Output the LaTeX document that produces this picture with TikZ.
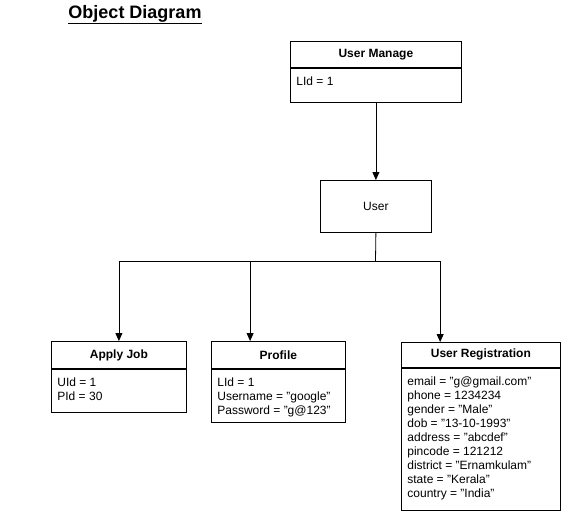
\documentclass[tikz,border=0pt]{standalone}
\usepackage{fontspec}
\setmainfont{Liberation Sans}
\usetikzlibrary{arrows.meta,calc}

\begin{document}
\begin{tikzpicture}[x = 1pt, y = -1pt, line width = 0.8pt,
  every node/.style = {font = \fontsize{12}{14}\selectfont},
  objhead/.style = {draw, anchor = north west, inner sep = 0, font = \fontsize{12}{14}\selectfont\bfseries},
  objbody/.style = {draw, anchor = north west, inner sep = 0},
  objtext/.style = {anchor = north west, inner sep = 0, align = left},
  link/.style = {-{Triangle[length = 8pt, width = 7pt]}}]
\useasboundingbox (0, 0) rectangle (561, 514);
\node [anchor = base, inner sep = 0, font = \fontsize{18}{22}\selectfont\bfseries] (title) at (135, 18) {\underline{Object Diagram}};
\node [objhead, minimum width = 171pt, minimum height = 26pt] (umhead) at (290, 41) {User Manage};
\node [objbody, minimum width = 171pt, minimum height = 34pt] (umbody) at (umhead.south west) {};
\node [objtext] (umtext) at ($(umbody.north west) + (6, 9)$) {LId = 1};
\node [draw, anchor = north west, inner sep = 0, minimum width = 111pt, minimum height = 52pt] (user) at (320, 180) {User};
\node [objhead, minimum width = 135pt, minimum height = 27pt] (ajhead) at (51, 341) {Apply Job};
\node [objbody, minimum width = 135pt, minimum height = 43pt] (ajbody) at (ajhead.south west) {};
\node [objtext] (ajtext) at ($(ajbody.north west) + (6, 8.5)$) {UId = 1\\PId = 30};
\node [objhead, minimum width = 134pt, minimum height = 27pt] (pfhead) at (211, 341) {Profile};
\node [objbody, minimum width = 134pt, minimum height = 53pt] (pfbody) at (pfhead.south west) {};
\node [objtext] (pftext) at ($(pfbody.north west) + (6, 8.5)$) {LId = 1\\Username = "google"\\Password = "g@123"};
\node [objhead, minimum width = 159pt, minimum height = 25pt] (urhead) at (401, 342) {User Registration};
\node [objbody, minimum width = 159pt, minimum height = 142pt] (urbody) at (urhead.south west) {};
\node [objtext] (urtext) at ($(urbody.north west) + (6, 9)$) {email = "g@gmail.com"\\phone = 1234234\\gender = "Male"\\dob = "13-10-1993"\\address = "abcdef"\\pincode = 121212\\district = "Ernamkulam"\\state = "Kerala"\\country = "India"};
\coordinate (bus) at (375.5, 261);
\draw [link] (umbody.south) -- (user.north);
\draw (user.south) -- (bus);
\draw [link] (bus) -| (ajhead.north);
\draw [link] (bus) -| ($(pfhead.north west)!0.29!(pfhead.north east)$);
\draw [link] (bus) -| ($(urhead.north west)!0.245!(urhead.north east)$);
\end{tikzpicture}
\end{document}
